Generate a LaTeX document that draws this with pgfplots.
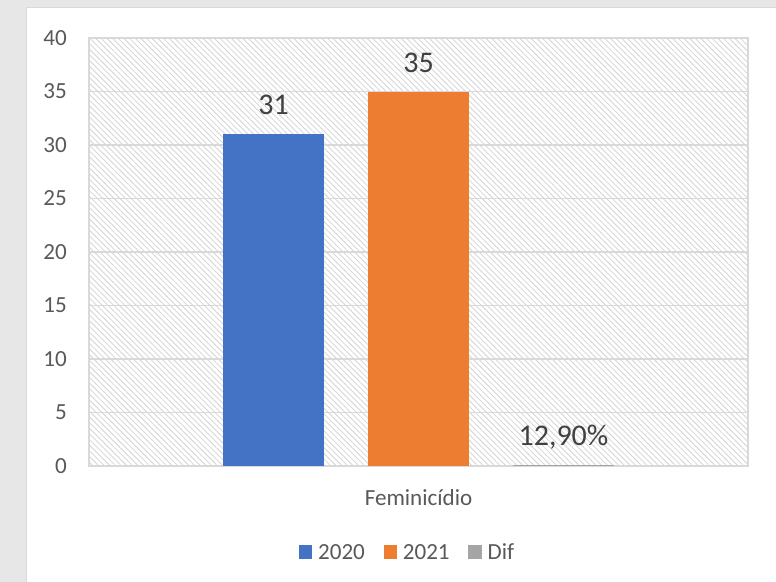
\documentclass[border=0pt]{standalone}
\usepackage{pgfplots}
\pgfplotsset{compat=1.18}
\usepackage{fontspec}
\setmainfont{Carlito}
\usetikzlibrary{patterns.meta}
\definecolor{c2020}{HTML}{4472C4}
\definecolor{c2021}{HTML}{ED7D31}
\definecolor{cdif}{HTML}{A5A5A5}
\definecolor{gridc}{HTML}{D9D9D9}
\definecolor{tickc}{HTML}{595959}
\definecolor{labc}{HTML}{404040}
\definecolor{bgc}{HTML}{E7E7E7}
\definecolor{hatchc}{HTML}{D4D4D4}
\begin{document}
\begin{tikzpicture}
\path[use as bounding box] (0,0) rectangle (582pt,436.5pt);
\fill[bgc] (0,0) rectangle (582pt,436.5pt);
\filldraw[fill=white, draw=gridc, line width=0.75pt] (19.5pt,-3pt) rectangle (586pt,430.5pt);
\begin{axis}[
  at={(66.75pt,87pt)}, anchor=south west,
  scale only axis, width=494.25pt, height=321pt,
  xmin=-1, xmax=1, ymin=0, ymax=40,
  ytick={0,5,...,40}, xtick={0}, xticklabels={Feminicídio},
  ymajorgrids, major grid style={gridc, line width=1pt},
  axis line style={gridc, line width=1pt},
  major tick length=0pt, tick style={draw=none},
  axis background/.style={pattern={Lines[angle=-45,distance=3pt,line width=0.6pt]}, pattern color=hatchc},
  tick label style={font=\fontsize{17.3}{20}\selectfont, text=tickc},
  /pgf/number format/assume math mode=true,
  yticklabel style={anchor=east, inner sep=0pt, xshift=-16.5pt},
  xticklabel style={anchor=base, inner sep=0pt, yshift=-30pt},
  legend columns=-1,
  legend style={at={(0.4818,-0.2015)}, anchor=center, draw=none, fill=none,
    inner sep=0pt, font=\fontsize{17.3}{20}\selectfont, text=tickc,
    nodes={inner sep=0pt, anchor=base west},
    /tikz/every odd column/.append style={column sep=4.5pt},
    /tikz/every even column/.append style={column sep=14pt}},
]
\addplot[ybar, bar width=75.75pt, bar shift=0pt, fill=c2020, draw=none,
  legend image code/.code={\fill[c2020] (0pt,0.3pt) rectangle (10pt,10.3pt);},
  nodes near coords, point meta=explicit symbolic,
  nodes near coords style={anchor=base, inner sep=0pt, yshift=15pt, font=\fontsize{22.5}{26}\selectfont, text=labc}]
  coordinates {(-0.44,31) [31]};
\addlegendentry{2020}
\addplot[ybar, bar width=75.75pt, bar shift=0pt, fill=c2021, draw=none,
  legend image code/.code={\fill[c2021] (0pt,0.3pt) rectangle (10pt,10.3pt);},
  nodes near coords, point meta=explicit symbolic,
  nodes near coords style={anchor=base, inner sep=0pt, yshift=14.5pt, font=\fontsize{22.5}{26}\selectfont, text=labc}]
  coordinates {(0.0,35) [35]};
\addlegendentry{2021}
\addplot[ybar, bar width=75.75pt, bar shift=0pt, fill=cdif, draw=none,
  legend image code/.code={\fill[cdif] (0pt,0.3pt) rectangle (10pt,10.3pt);},
  nodes near coords, point meta=explicit symbolic,
  nodes near coords style={anchor=base, inner sep=0pt, yshift=14.5pt, font=\fontsize{22.5}{26}\selectfont, text=labc}]
  coordinates {(0.44,0.129) [{12,90\%}]};
\addlegendentry{Dif}
\end{axis}
\end{tikzpicture}
\end{document}
